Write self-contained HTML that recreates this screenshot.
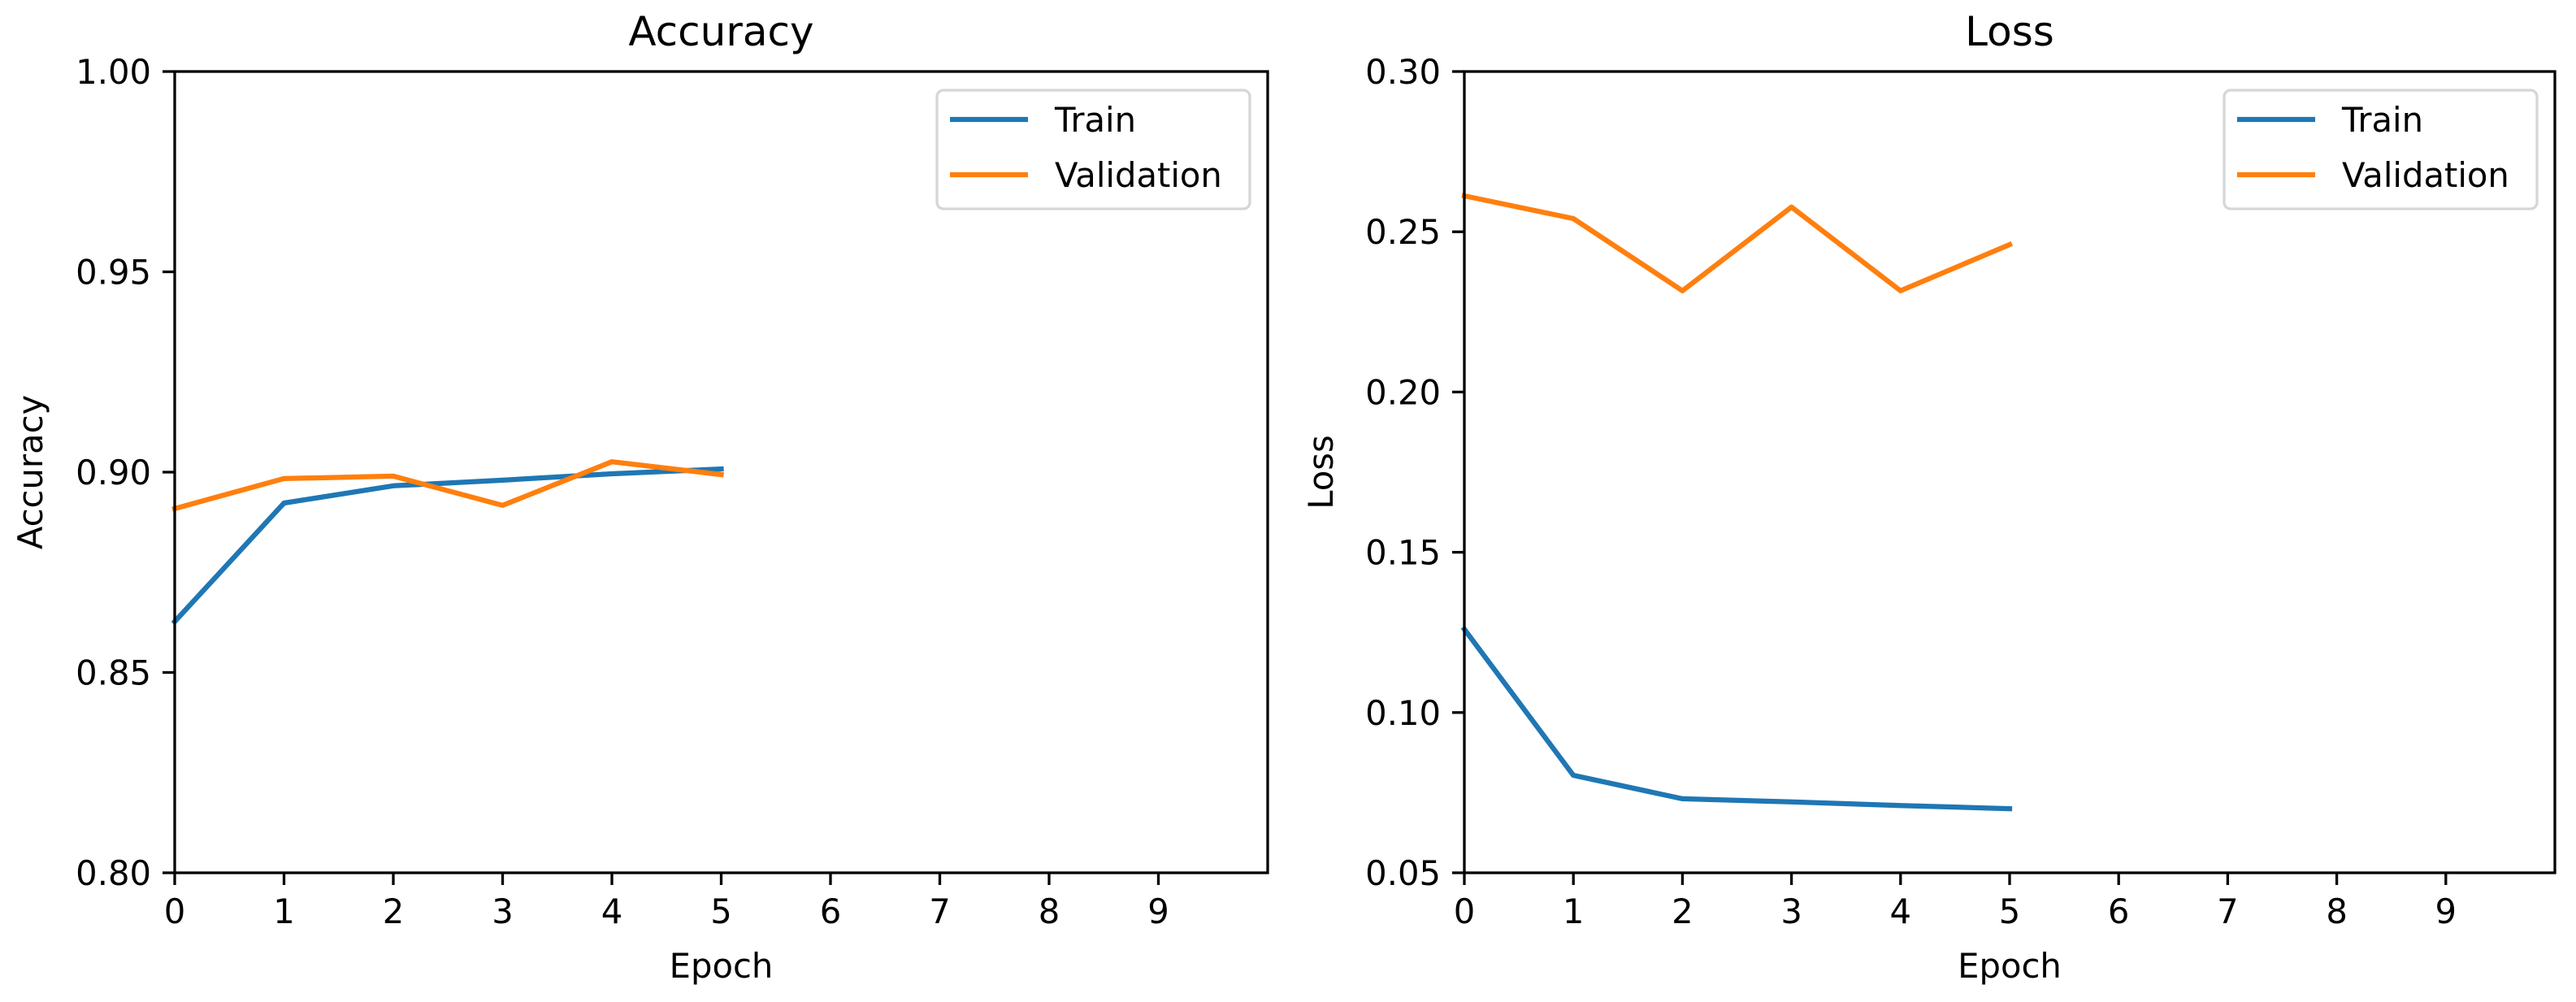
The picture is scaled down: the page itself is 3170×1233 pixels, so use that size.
<!DOCTYPE html>
<html><head><meta charset="utf-8"><style>
html,body{margin:0;padding:0;background:#fff;}
svg{display:block;font-family:"DejaVu Sans","Liberation Sans",sans-serif;}
</style></head><body>
<svg id="fig" width="3170" height="1233" viewBox="0 0 3170 1233" xmlns="http://www.w3.org/2000/svg"></svg>
<script>
const epochs = [0, 1, 2, 3, 4, 5];
const accTrain = [0.8627, 0.8923, 0.8966, 0.8980, 0.8996, 0.9008];
const accVal = [0.8909, 0.8984, 0.8990, 0.8917, 0.9026, 0.8994];
const lossTrain = [0.1260, 0.0804, 0.0731, 0.0721, 0.0710, 0.0700];
const lossVal = [0.2612, 0.2541, 0.2316, 0.2577, 0.2316, 0.2460];
const xTicks = [0, 1, 2, 3, 4, 5, 6, 7, 8, 9];
const accTicks = [0.80, 0.85, 0.90, 0.95, 1.00];
const lossTicks = [0.05, 0.10, 0.15, 0.20, 0.25, 0.30];

const NS = "http://www.w3.org/2000/svg";
const svg = document.getElementById('fig');
function el(tag, attrs, parent, text) {
  const e = document.createElementNS(NS, tag);
  for (const k in attrs) e.setAttribute(k, attrs[k]);
  if (text !== undefined) e.textContent = text;
  (parent || svg).appendChild(e);
  return e;
}

function panel(cfg) {
  const g = el('g', {});
  
  
  const L = cfg.x0, R = cfg.x1, T = 88, B = 1074;
  const xs = v => L + (v - 0) / (10 - 0) * (R - L);
  const ys = v => B - (v - cfg.ymin) / (cfg.ymax - cfg.ymin) * (B - T);

  const series = [[cfg.train, '#1f77b4', 'train'], [cfg.val, '#ff7f0e', 'validation']];
  series.forEach(([arr, col, nm]) => {
    const pts = arr.map((v, i) => xs(epochs[i]).toFixed(1) + ',' + ys(v).toFixed(1)).join(' ');
    const p = el('polyline', {points: pts, fill: 'none', stroke: col, 'stroke-width': 6.25, 'stroke-linejoin': 'round', 'stroke-linecap': 'square'}, g);
    
    
  });

  const fr = el('rect', {x: L, y: T, width: R - L, height: B - T, fill: 'none', stroke: '#000', 'stroke-width': 3.3}, g);
  
  

  xTicks.forEach(t => {
    const x = xs(t);
    el('line', {x1: x, y1: B, x2: x, y2: B + 15, stroke: '#000', 'stroke-width': 3.3}, g);
    const tx = el('text', {x: x, y: B + 62, 'font-size': 41.7, 'text-anchor': 'middle', fill: '#000'}, g, String(t));
    
    
  });
  cfg.yticks.forEach(t => {
    const y = ys(t);
    el('line', {x1: L - 15, y1: y, x2: L, y2: y, stroke: '#000', 'stroke-width': 3.3}, g);
    const ty = el('text', {x: L - 29, y: y + 15, 'font-size': 41.7, 'text-anchor': 'end', fill: '#000'}, g, t.toFixed(2));
    
    
  });

  const title = el('text', {x: (L + R) / 2, y: 56, 'font-size': 50, 'text-anchor': 'middle', fill: '#000'}, g, cfg.title);
  
  
  const xl = el('text', {x: (L + R) / 2, y: 1203, 'font-size': 41.7, 'text-anchor': 'middle', fill: '#000'}, g, 'Epoch');
  
  
  const yl = el('text', {x: cfg.ylabX, y: (T + B) / 2, 'font-size': 41.7, 'text-anchor': 'middle', fill: '#000', transform: 'rotate(-90 ' + cfg.ylabX + ' ' + (T + B) / 2 + ')'}, g, cfg.ylabel);
  
  

  const lg = el('g', {}, g);
  
  
  const bx = R - 22 - 385, by = 111;
  el('rect', {x: bx, y: by, width: 385, height: 146, rx: 8, fill: '#fff', 'fill-opacity': 0.8, stroke: '#d6d6d6', 'stroke-width': 3.3}, lg);
  [['Train', '#1f77b4', 147], ['Validation', '#ff7f0e', 215]].forEach(([lab, col, y]) => {
    const e = el('g', {}, lg);
    
    
    el('line', {x1: bx + 16, y1: y, x2: bx + 112, y2: y, stroke: col, 'stroke-width': 6.25}, e);
    el('text', {x: bx + 145, y: y + 15, 'font-size': 41.7, fill: '#000'}, e, lab);
  });
}

panel({name: 'accuracy', x0: 215, x1: 1560, ymin: 0.80, ymax: 1.00, yticks: accTicks, train: accTrain, val: accVal, title: 'Accuracy', ylabel: 'Accuracy', ylabX: 52});
panel({name: 'loss', x0: 1802, x1: 3144, ymin: 0.05, ymax: 0.30, yticks: lossTicks, train: lossTrain, val: lossVal, title: 'Loss', ylabel: 'Loss', ylabX: 1640});
</script>
</body></html>
